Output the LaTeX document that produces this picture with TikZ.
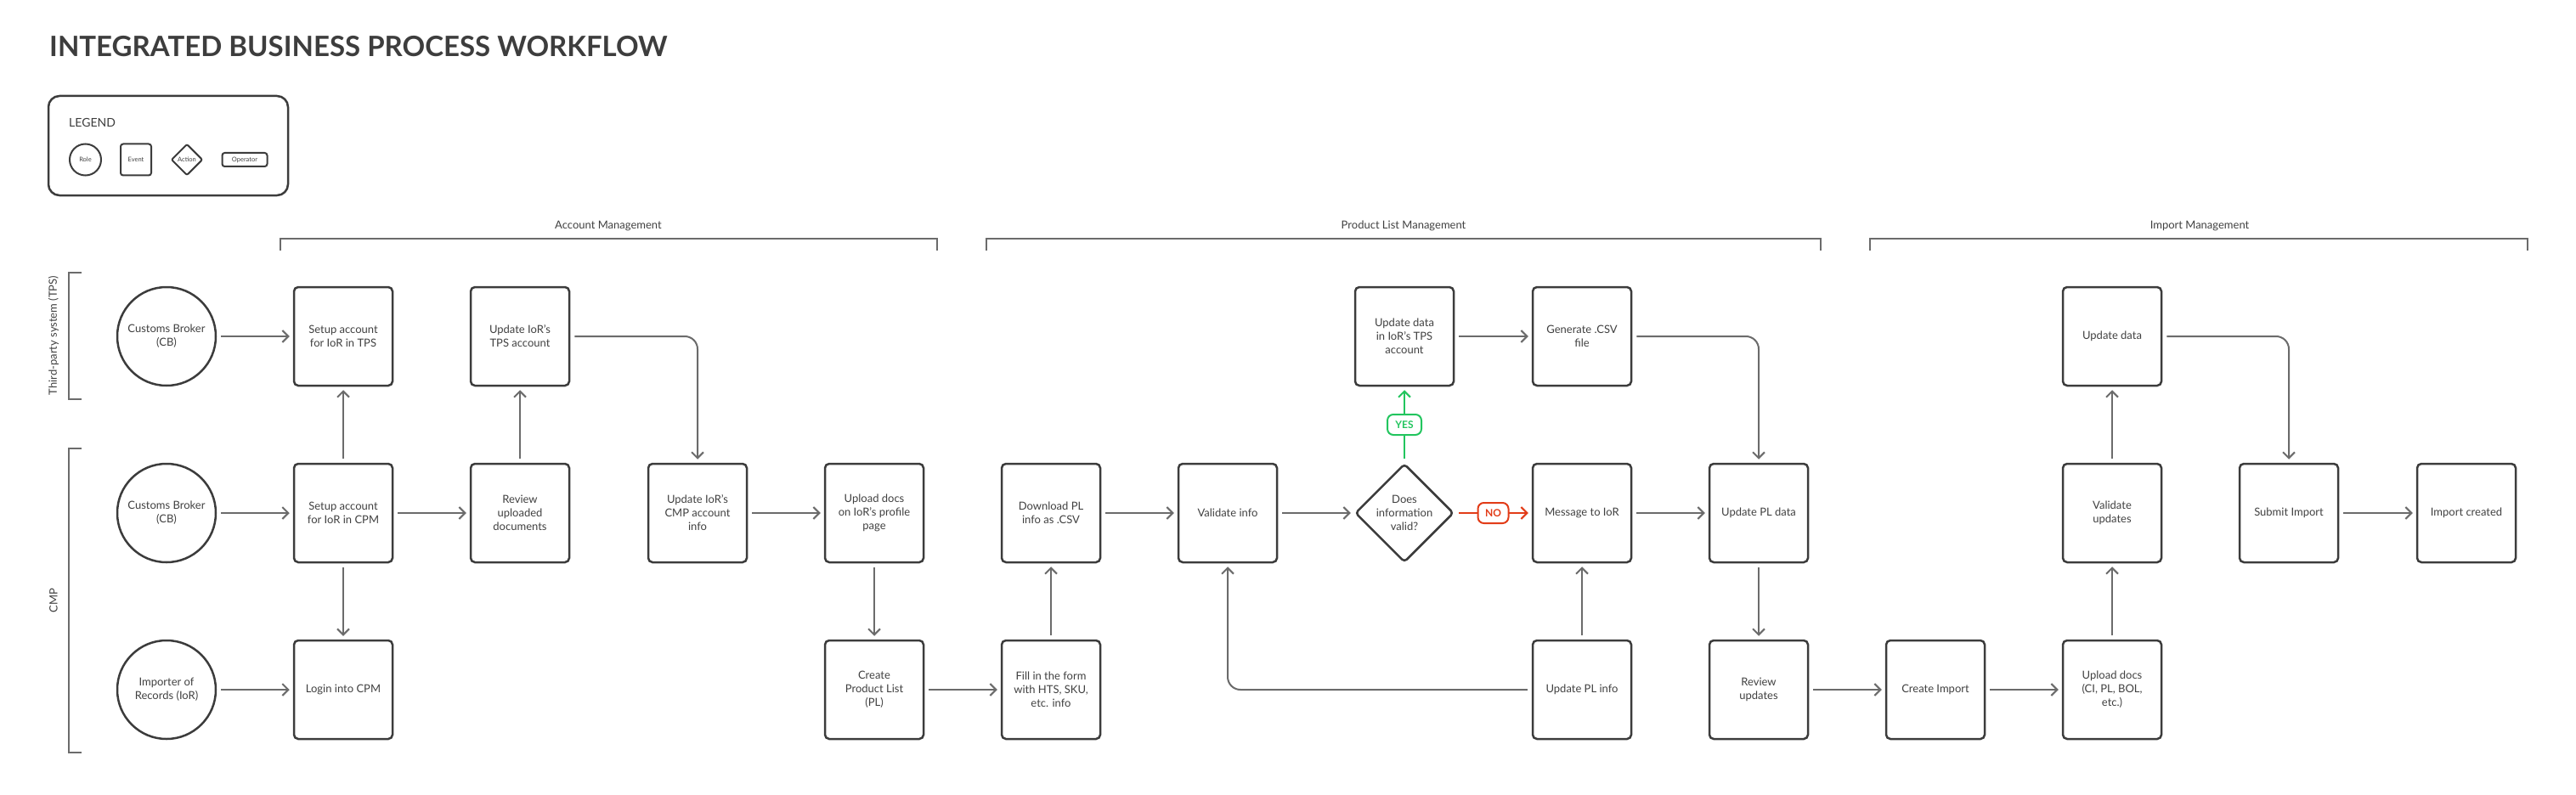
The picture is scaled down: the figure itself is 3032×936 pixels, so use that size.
\documentclass[tikz,border=0pt]{standalone}
\usepackage{fontspec}
\setmainfont{Lato}
\usepackage{tikz}
\usetikzlibrary{arrows.meta,shapes.geometric}

\definecolor{boxline}{HTML}{3C3C3C}
\definecolor{wireline}{HTML}{6B6B6B}
\definecolor{inktext}{HTML}{404040}
\definecolor{titleink}{HTML}{3D3D3D}
\definecolor{yesgreen}{RGB}{34,197,94}
\definecolor{nored}{RGB}{226,60,24}

\tikzset{
  boxtext/.style={text=inktext, font=\fontsize{13}{16}\selectfont},
  event/.style={boxtext, draw=boxline, line width=2.5pt, rounded corners=5pt,
    minimum width=116pt, minimum height=116pt, align=center, inner sep=0pt},
  role/.style={boxtext, draw=boxline, line width=2.5pt, circle,
    minimum size=116pt, align=center, inner sep=0pt},
  action/.style={boxtext, draw=boxline, line width=2.5pt, diamond, rounded corners=4pt,
    minimum width=116pt, minimum height=116pt, align=center, inner sep=0pt},
  flow/.style={draw=wireline, line width=2pt, -{Straight Barb[length=7pt,width=14pt]},
    shorten <=5pt, shorten >=4pt, rounded corners=15pt},
  yesflow/.style={flow, draw=yesgreen},
  noflow/.style={flow, draw=nored},
  yestag/.style={draw=yesgreen, text=yesgreen, fill=white, line width=2pt, rounded corners=7pt,
    minimum width=40pt, minimum height=24pt, inner sep=0pt, font=\fontsize{12}{14}\selectfont\bfseries},
  notag/.style={yestag, draw=nored, text=nored, minimum width=36pt},
  bracket/.style={draw=wireline, line width=2pt},
  lane/.style={text=inktext, font=\fontsize{13}{16}\selectfont, inner sep=0pt},
  keytext/.style={font=\fontsize{7.5}{9}\selectfont, line width=2pt},
}

\begin{document}
\begin{tikzpicture}[x=1pt, y=-1pt]
\useasboundingbox (0,0) rectangle (3032,936);

%%%%%%%%%%%%%%%%%%%%Draw The Title%%%%%%%%%%%%%%%%%%%%
\node[anchor=base west, inner sep=0pt, text=titleink, font=\fontsize{33}{38}\selectfont\bfseries] (title) at (58,67) {INTEGRATED BUSINESS PROCESS WORKFLOW};

%%%%%%%%%%%%%%%%%%%%Draw The Legend%%%%%%%%%%%%%%%%%%%%
\draw[draw=boxline, line width=2.5pt, rounded corners=13pt] (57,113) rectangle (339,230);
\node[lane, anchor=west, text=titleink, font=\fontsize{14}{16}\selectfont] (lgTitle) at (81,144) {LEGEND};
\node[role, keytext, minimum size=37pt] (lgRole) at (100.5,188) {Role};
\node[event, keytext, minimum width=36pt, minimum height=37pt, rounded corners=3pt] (lgEvent) at (160,188) {Event};
\node[action, keytext, minimum width=37pt, minimum height=37pt, rounded corners=2pt] (lgAction) at (220,188) {Action};
\node[event, keytext, minimum width=53pt, minimum height=16pt, rounded corners=3pt] (lgOperator) at (288,188) {Operator};

%%%%%%%%%%%%%%%%%%Draw Swimlane Brackets%%%%%%%%%%%%%%%%%%
\draw[bracket] (96,321) -- (81,321) -- (81,470) -- (96,470);
\node[lane, rotate=90] (tpsLabel) at (63,395) {Third-party system (TPS)};
\draw[bracket] (96,528) -- (81,528) -- (81,886) -- (96,886);
\node[lane, rotate=90] (cmpLabel) at (63,707) {CMP};

%%%%%%%%%%%%%%%%%%Draw Stage Brackets%%%%%%%%%%%%%%%%%%
\draw[bracket] (330,295) -- (330,281) -- (1103,281) -- (1103,295);
\node[lane, anchor=base] (acctLabel) at (716,269) {Account Management};
\draw[bracket] (1161,295) -- (1161,281) -- (2143,281) -- (2143,295);
\node[lane, anchor=base] (plLabel) at (1652,269) {Product List Management};
\draw[bracket] (2201,295) -- (2201,281) -- (2975,281) -- (2975,295);
\node[lane, anchor=base] (impLabel) at (2589,269) {Import Management};

%%%%%%%%%%%%%%%%%%%%Third-party System Row%%%%%%%%%%%%%%%%%%%%
\node[role] (cbTps) at (196,396) {Customs Broker\\(CB)};
\node[event] (setupTps) at (404,396) {Setup account\\for IoR in TPS};
\node[event] (updTps) at (612,396) {Update IoR's\\TPS account};
\node[event] (updData) at (1653,396) {Update data\\in IoR's TPS\\account};
\node[event] (genCsv) at (1862,396) {Generate .CSV\\file};
\node[event] (updImp) at (2486,396) {Update data};

%%%%%%%%%%%%%%%%%%%%CMP Row%%%%%%%%%%%%%%%%%%%%
\node[role] (cbCmp) at (196,604) {Customs Broker\\(CB)};
\node[event] (setupCpm) at (404,604) {Setup account\\for IoR in CPM};
\node[event] (review) at (612,604) {Review\\uploaded\\documents};
\node[event] (updCmp) at (821,604) {Update IoR's\\CMP account\\info};
\node[event] (uploadPage) at (1029,604) {Upload docs\\on IoR's profile\\page};
\node[event] (download) at (1237,604) {Download PL\\info as .CSV};
\node[event] (validate) at (1445,604) {Validate info};
\node[action] (decide) at (1653,604) {Does\\information\\valid?};
\node[event] (message) at (1862,604) {Message to IoR};
\node[event] (updPl) at (2070,604) {Update PL data};
\node[event] (validUpd) at (2486,604) {Validate\\updates};
\node[event] (submit) at (2694,604) {Submit Import};
\node[event] (created) at (2903,604) {Import created};

%%%%%%%%%%%%%%%%%%%%Importer Row%%%%%%%%%%%%%%%%%%%%
\node[role] (ior) at (196,812) {Importer of\\Records (IoR)};
\node[event] (login) at (404,812) {Login into CPM};
\node[event] (createPl) at (1029,812) {Create\\Product List\\(PL)};
\node[event] (fillForm) at (1237,812) {Fill in the form\\with HTS, SKU,\\etc. info};
\node[event] (updPlInfo) at (1862,812) {Update PL info};
\node[event] (reviewUpd) at (2070,812) {Review\\updates};
\node[event] (createImp) at (2278,812) {Create Import};
\node[event] (uploadImp) at (2486,812) {Upload docs\\(CI, PL, BOL,\\etc.)};

%%%%%%%%%%%%%%%%%%Account Management Flow%%%%%%%%%%%%%%%%%%
\draw[flow] (cbTps.east) -- (setupTps.west);
\draw[flow] (cbCmp.east) -- (setupCpm.west);
\draw[flow] (ior.east) -- (login.west);
\draw[flow] (setupCpm.north) -- (setupTps.south);
\draw[flow] (setupCpm.south) -- (login.north);
\draw[flow] (setupCpm.east) -- (review.west);
\draw[flow] (review.north) -- (updTps.south);
\draw[flow] (updTps.east) -| (updCmp.north);
\draw[flow] (updCmp.east) -- (uploadPage.west);

%%%%%%%%%%%%%%%%%%Product List Flow%%%%%%%%%%%%%%%%%%
\draw[flow] (uploadPage.south) -- (createPl.north);
\draw[flow] (createPl.east) -- (fillForm.west);
\draw[flow] (fillForm.north) -- (download.south);
\draw[flow] (download.east) -- (validate.west);
\draw[flow] (validate.east) -- (decide.west);
\draw[yesflow] (decide.north) -- node[yestag] (yesTag) {YES} (updData.south);
\draw[noflow] (decide.east) -- node[notag] (noTag) {NO} (message.west);
\draw[flow] (updData.east) -- (genCsv.west);
\draw[flow] (genCsv.east) -| (updPl.north);
\draw[flow] (message.east) -- (updPl.west);
\draw[flow] (updPlInfo.north) -- (message.south);
\draw[flow] (updPlInfo.west) -| (validate.south);
\draw[flow] (updPl.south) -- (reviewUpd.north);

%%%%%%%%%%%%%%%%%%Import Flow%%%%%%%%%%%%%%%%%%
\draw[flow] (reviewUpd.east) -- (createImp.west);
\draw[flow] (createImp.east) -- (uploadImp.west);
\draw[flow] (uploadImp.north) -- (validUpd.south);
\draw[flow] (validUpd.north) -- (updImp.south);
\draw[flow] (updImp.east) -| (submit.north);
\draw[flow] (submit.east) -- (created.west);

\end{tikzpicture}
\end{document}
